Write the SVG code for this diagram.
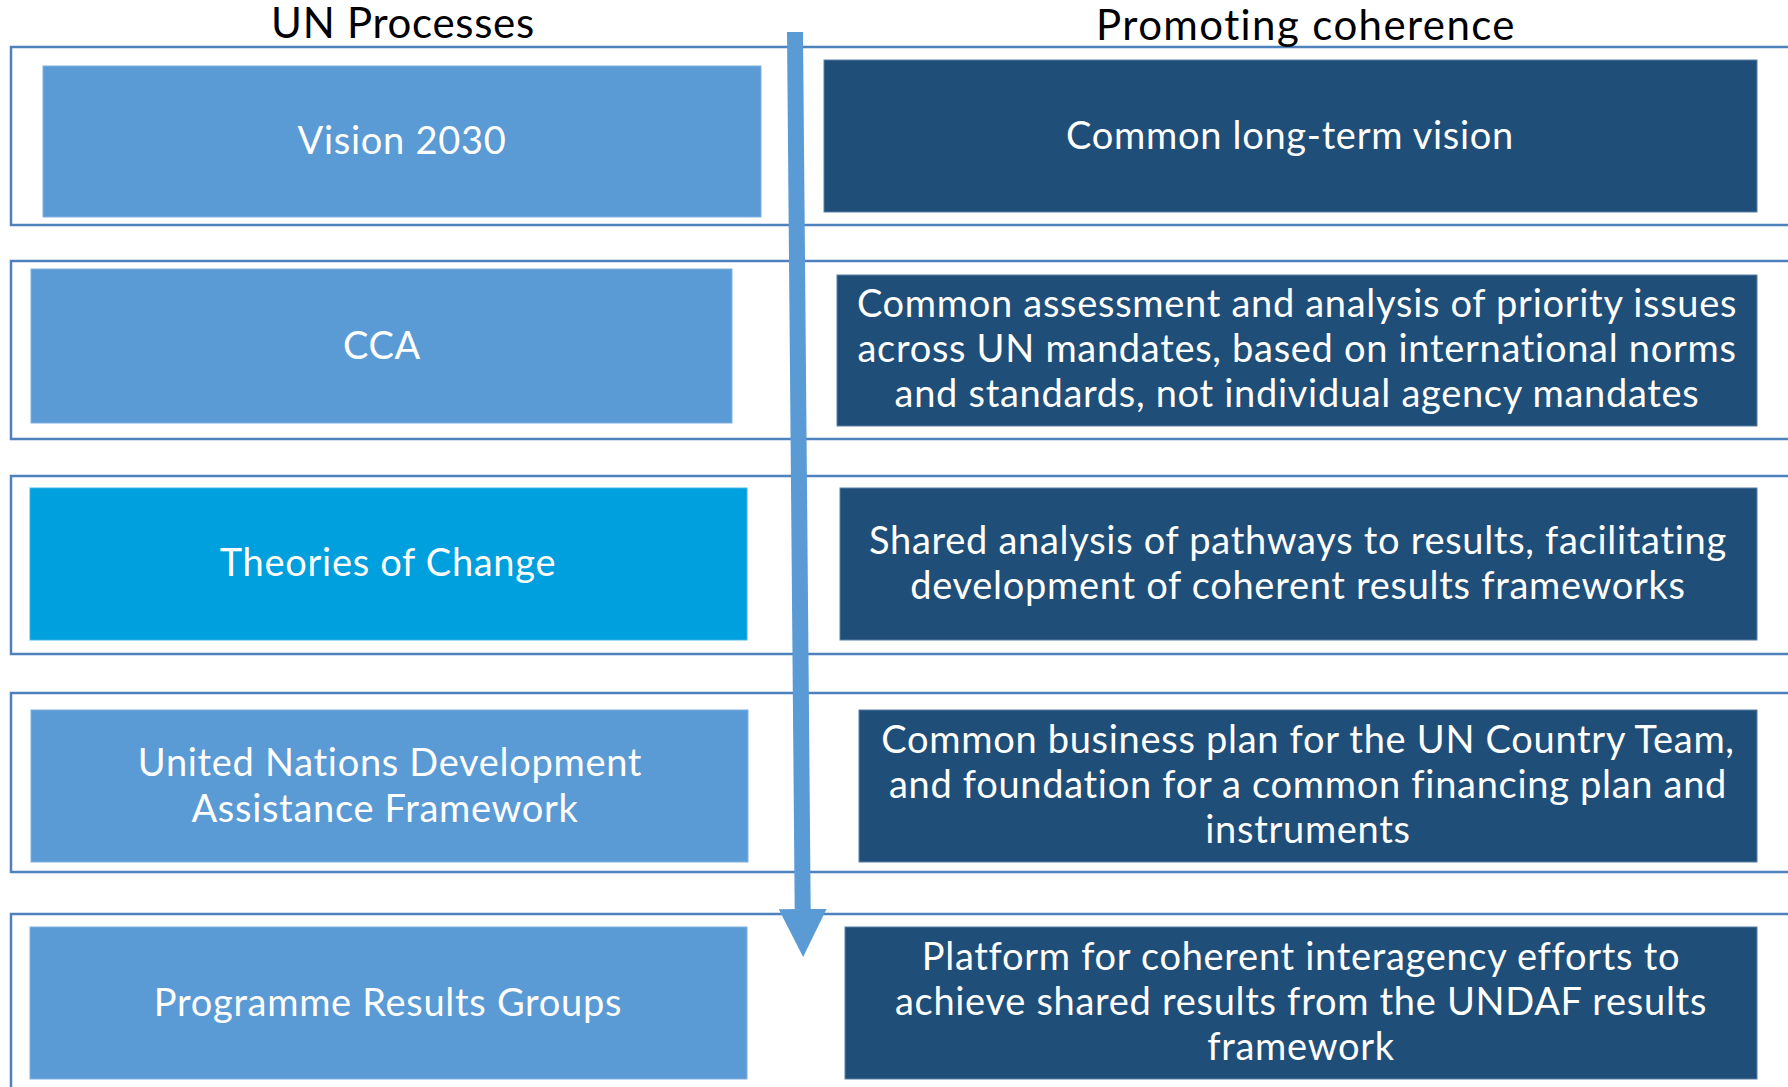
<svg xmlns="http://www.w3.org/2000/svg" width="1788" height="1087" viewBox="0 0 1788 1087">
  <defs>
    <style>
      .frame { fill: none; stroke: #4F81BD; stroke-width: 2.5; }
      .lb { fill: #5B9BD5; stroke: #7FB0E0; stroke-width: 1; }
      .toc { fill: #009FDD; stroke: #3FB5E8; stroke-width: 1; }
      .db { fill: #1F4E79; stroke: #5A7FA6; stroke-width: 1; }
      .t { font-family: Lato, "Liberation Sans", sans-serif; fill: #FFFFFF; font-size: 38px; letter-spacing: 0.7px; text-anchor: middle; }
      .title { font-family: Lato, "Liberation Sans", sans-serif; fill: #000000; font-size: 42px; text-anchor: middle; }
    </style>
    <marker id="head" viewBox="0 0 3 3" refX="0" refY="1.5" markerWidth="3" markerHeight="3" orient="auto" markerUnits="strokeWidth">
      <path d="M0,0 L3,1.5 L0,3 z" fill="#5B9BD5"/>
    </marker>
  </defs>
  <rect width="1788" height="1087" fill="#FFFFFF"/>

  <g id="frames">
    <rect class="frame" x="11" y="47" width="1800" height="178"/>
    <rect class="frame" x="11" y="261" width="1800" height="178"/>
    <rect class="frame" x="11" y="476" width="1800" height="178"/>
    <rect class="frame" x="11" y="693" width="1800" height="179"/>
    <rect class="frame" x="11" y="914" width="1800" height="200"/>
  </g>

  <g id="titles">
    <text class="title" x="403" y="38" letter-spacing="0.7">UN Processes</text>
    <text class="title" x="1306" y="40" letter-spacing="1.4">Promoting coherence</text>
  </g>

  <g id="vision2030">
    <rect class="lb" x="43" y="66" width="718" height="151"/>
    <text class="t" x="402" y="154">Vision 2030</text>
  </g>
  <g id="cca">
    <rect class="lb" x="31" y="269" width="701" height="154"/>
    <text class="t" x="382" y="359">CCA</text>
  </g>
  <g id="theories">
    <rect class="toc" x="30" y="488" width="717" height="152"/>
    <text class="t" x="388" y="576">Theories of Change</text>
  </g>
  <g id="undaf">
    <rect class="lb" x="31" y="710" width="717" height="152"/>
    <text class="t" x="390" y="776">United Nations Development</text>
    <text class="t" x="385" y="822">Assistance Framework</text>
  </g>
  <g id="prg">
    <rect class="lb" x="30" y="927" width="717" height="152"/>
    <text class="t" x="388" y="1016">Programme Results Groups</text>
  </g>

  <g id="vision-right">
    <rect class="db" x="824" y="60" width="933" height="152"/>
    <text class="t" x="1290" y="149">Common long-term vision</text>
  </g>
  <g id="cca-right">
    <rect class="db" x="837" y="275" width="920" height="151"/>
    <text class="t" x="1297" y="317">Common assessment and analysis of priority issues</text>
    <text class="t" x="1297" y="362">across UN mandates, based on international norms</text>
    <text class="t" x="1297" y="407">and standards, not individual agency mandates</text>
  </g>
  <g id="theories-right">
    <rect class="db" x="840" y="488" width="917" height="152"/>
    <text class="t" x="1298" y="554">Shared analysis of pathways to results, facilitating</text>
    <text class="t" x="1298" y="599">development of coherent results frameworks</text>
  </g>
  <g id="undaf-right">
    <rect class="db" x="859" y="710" width="898" height="152"/>
    <text class="t" x="1308" y="753">Common business plan for the UN Country Team,</text>
    <text class="t" x="1308" y="798">and foundation for a common financing plan and</text>
    <text class="t" x="1308" y="843">instruments</text>
  </g>
  <g id="prg-right">
    <rect class="db" x="845" y="927" width="912" height="152"/>
    <text class="t" x="1301" y="970">Platform for coherent interagency efforts to</text>
    <text class="t" x="1301" y="1015">achieve shared results from the UNDAF results</text>
    <text class="t" x="1301" y="1060">framework</text>
  </g>

  <g id="connectors">
    <path d="M795,32 L802.7,909" fill="none" stroke="#5B9BD5" stroke-width="16" marker-end="url(#head)"/>
  </g>
</svg>
